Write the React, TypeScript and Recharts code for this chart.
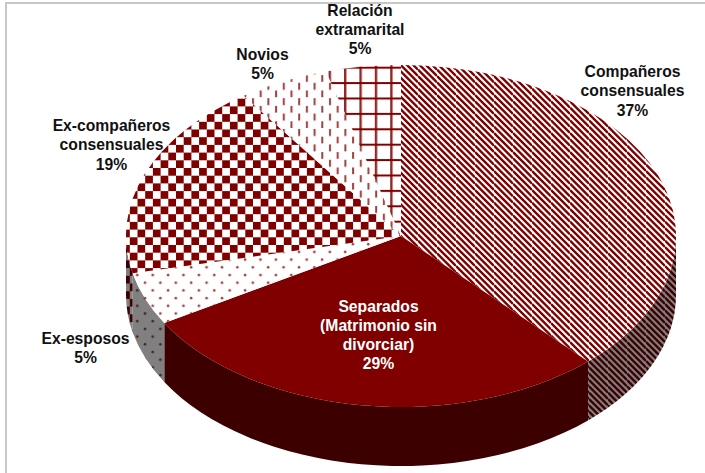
import { PieChart, Pie } from 'recharts';

const names = ['Compañeros consensuales', 'Separados (Matrimonio sin divorciar)', 'Ex-esposos', 'Ex-compañeros consensuales', 'Novios', 'Relación extramarital'];
const values = [38.1, 28.4, 5.0, 18.8, 5.3, 4.4];
const percents = ['37%', '29%', '5%', '19%', '5%', '5%'];
const labelLines = [
  ['Compañeros', 'consensuales', '37%'],
  ['Separados', '(Matrimonio sin', 'divorciar)', '29%'],
  ['Ex-esposos', '5%'],
  ['Ex-compañeros', 'consensuales', '19%'],
  ['Novios', '5%'],
  ['Relación', 'extramarital', '5%'],
];

const data = names.map((name, i) => ({ name, value: values[i], percent: percents[i] }));

// label anchor of every slice (center x, first baseline)
const LABEL_POS = [
  [632.5, 77],
  [378.5, 311.5],
  [85.5, 344],
  [111.5, 131],
  [262.5, 60],
  [360, 15.5],
];

const MAROON = '#800000';
const DARK = '#3d0000';
const GRAY = '#808080';
const RATIO = 171 / 275; // squash of the tilted pie
const DEPTH = 59;
const TOP_FILLS = ['url(#stripeTop)', MAROON, 'url(#dotTop)', 'url(#checkTop)', 'url(#dashTop)', 'url(#gridTop)'];
const WALL_FILLS = ['url(#stripeWall)', DARK, 'url(#dotWall)', 'url(#checkWall)', DARK, DARK];
// three diagonal bands in a 19px tile, so the tile stays on whole pixels
const BANDS = [-3, -2, -1, 0, 1, 2, 3]
  .map((k) => `M0 ${(k * 19) / 3} L19 ${(k * 19) / 3 + 19}`)
  .join(' ');

function Slice(props: any) {
  const { cx, cy, outerRadius: rx, startAngle, endAngle, index } = props;
  const ry = rx * RATIO;
  const pt = (deg: number, dy = 0) => {
    const a = (deg * Math.PI) / 180;
    return `${cx + rx * Math.cos(a)} ${cy - ry * Math.sin(a) + dy}`;
  };
  const big = Math.abs(startAngle - endAngle) > 180 ? 1 : 0;
  const top = `M${cx} ${cy} L${pt(startAngle)} A${rx} ${ry} 0 ${big} 1 ${pt(endAngle)} Z`;

  // only the front half of the rim shows a side wall
  const a0 = Math.min(startAngle, 0);
  const a1 = Math.max(endAngle, -180);
  const wall =
    a0 > a1
      ? `M${pt(a0)} A${rx} ${ry} 0 0 1 ${pt(a1)} L${pt(a1, DEPTH)} A${rx} ${ry} 0 0 0 ${pt(a0, DEPTH)} Z`
      : null;
  const i = index ?? names.indexOf(props.name);
  return (
    <g>
      {wall && <path d={wall} fill={WALL_FILLS[i]} />}
      <path d={top} fill={TOP_FILLS[i]} />
    </g>
  );
}

function renderLabel(props: any) {
  const i = props.index;
  const [x, y] = LABEL_POS[i];
  return (
    <text
      key={i}
      x={x}
      y={y}
      textAnchor="middle"
      fontFamily="Liberation Sans"
      fontWeight="bold"
      fontSize={15.7}
      fill={i === 1 ? '#ffffff' : '#111111'}
    >
      {labelLines[i].map((line, k) => (
        <tspan key={k} x={x} dy={k === 0 ? 0 : 19.3}>
          {line}
        </tspan>
      ))}
    </text>
  );
}

export default function App() {
  return (
    <div style={{ position: 'absolute', left: 0, top: 0, width: 705, height: 473, background: '#fff', overflow: 'hidden' }}>
      <div style={{ position: 'absolute', left: 5, top: 2, width: 2, height: 471, background: '#c8c8c8' }} />
      <div style={{ position: 'absolute', left: 5, top: 2, width: 700, height: 2, background: '#c8c8c8' }} />
      <div style={{ position: 'absolute', left: 0, top: 0 }}>
        <PieChart width={705} height={473} margin={{ top: 0, right: 0, bottom: 0, left: 0 }}>
          <defs>
            <pattern id="stripeTop" patternUnits="userSpaceOnUse" width="19" height="19">
              <rect width="19" height="19" fill="#fff" />
              <path d={BANDS} stroke={MAROON} strokeWidth="2.4" fill="none" />
            </pattern>
            <pattern id="stripeWall" patternUnits="userSpaceOnUse" width="19" height="19">
              <rect width="19" height="19" fill={GRAY} />
              <path d={BANDS} stroke={DARK} strokeWidth="2.4" fill="none" />
            </pattern>
            <pattern id="checkTop" patternUnits="userSpaceOnUse" width="15.4" height="15.4" x="330" y="175.7">
              <rect width="15.4" height="15.4" fill="#fff" />
              <rect width="7.7" height="7.7" fill={MAROON} />
              <rect x="7.7" y="7.7" width="7.7" height="7.7" fill={MAROON} />
            </pattern>
            <pattern id="checkWall" patternUnits="userSpaceOnUse" width="15.4" height="15.4" x="330" y="175.7">
              <rect width="15.4" height="15.4" fill={GRAY} />
              <rect width="7.7" height="7.7" fill={DARK} />
              <rect x="7.7" y="7.7" width="7.7" height="7.7" fill={DARK} />
            </pattern>
            <pattern id="dotTop" patternUnits="userSpaceOnUse" width="15.4" height="15.4" x="134.3" y="271">
              <rect width="15.4" height="15.4" fill="#fff" />
              <circle cx="3" cy="4" r="1.3" fill={MAROON} opacity="0.75" />
              <circle cx="10.7" cy="11.7" r="1.3" fill={MAROON} opacity="0.75" />
            </pattern>
            <pattern id="dotWall" patternUnits="userSpaceOnUse" width="15.4" height="15.4" x="134.3" y="271">
              <rect width="15.4" height="15.4" fill={GRAY} />
              <circle cx="3" cy="4" r="1.3" fill={DARK} opacity="0.75" />
              <circle cx="10.7" cy="11.7" r="1.3" fill={DARK} opacity="0.75" />
            </pattern>
            <pattern id="dashTop" patternUnits="userSpaceOnUse" width="15.4" height="15.4" x="327" y="97.2">
              <rect width="15.4" height="15.4" fill="#fff" />
              <rect x="2" y="1" width="2" height="7" fill={MAROON} opacity="0.75" />
              <rect x="9.7" y="8.7" width="2" height="7" fill={MAROON} opacity="0.75" />
            </pattern>
            <pattern id="gridTop" patternUnits="userSpaceOnUse" width="15.4" height="15.4" x="344" y="97.5">
              <rect width="15.4" height="15.4" fill="#fff" />
              <rect x="0" width="2.4" height="15.4" fill={MAROON} opacity="0.85" />
              <rect y="0" width="15.4" height="2" fill={MAROON} />
            </pattern>
          </defs>
          <Pie
            data={data}
            dataKey="value"
            nameKey="name"
            cx={401}
            cy={236}
            innerRadius={0}
            outerRadius={275}
            startAngle={90}
            endAngle={-270}
            stroke="none"
            shape={Slice}
            label={renderLabel}
            labelLine={false}
            isAnimationActive={false}
          />
        </PieChart>
      </div>
    </div>
  );
}
